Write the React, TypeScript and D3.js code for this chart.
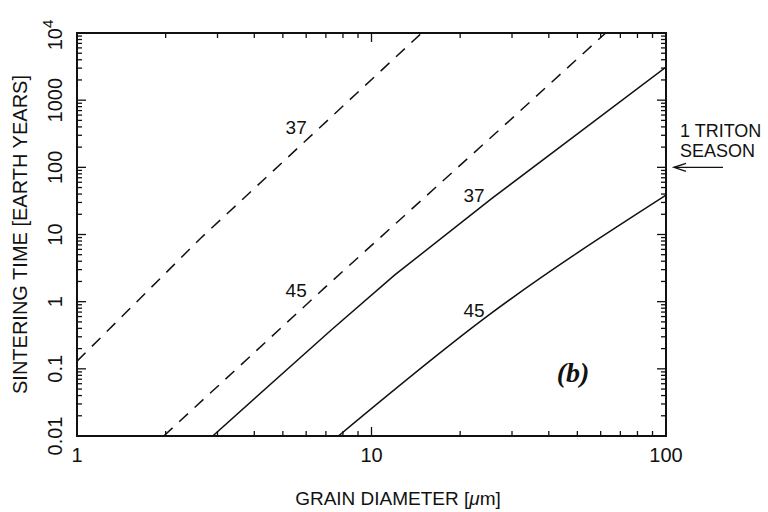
import React from "react";
import * as d3 from "d3";

const W = 768;
const H = 512;
const M = { left: 77, right: 666, top: 33, bottom: 436 };

// axes
const xDomain = [1, 100];
const yDomain = [0.01, 10000];
const xTickValues = [1, 10, 100];
const xTickLabels = ["1", "10", "100"];
const yTickValues = [0.01, 0.1, 1, 10, 100, 1000];
const yTickLabels = ["0.01", "0.1", "1", "10", "100", "1000"];

// curves: [grain diameter (µm), sintering time (earth years)]
const dashed37 = [[1, 0.13], [2.63, 8.8], [14.8, 10000]];
const dashed45 = [[1.97, 0.01], [6.91, 1.59], [27.8, 396], [62.4, 10000]];
const solid37 = [[2.89, 0.01], [7.3, 0.378], [12, 2.5], [25.7, 34.8], [100, 3100]];
const solid45 = [[7.72, 0.01], [25, 0.63], [100, 38.5]];

const curveNames = ["37", "45", "37", "45"];
const curveDashed = [true, true, false, false];
const curveSmooth = [false, false, false, true];
const curveLabelPos = [[5.55, 396], [5.55, 1.49], [22.3, 38.5], [22.3, 0.75]];

const seasonValue = 100;

export default function App() {
  const x = d3.scaleLog().domain(xDomain).range([M.left, M.right]);
  const y = d3.scaleLog().domain(yDomain).range([M.bottom, M.top]);
  const lineLin = d3
    .line<number[]>()
    .x((d) => x(d[0]))
    .y((d) => y(d[1]));
  const lineSmooth = d3
    .line<number[]>()
    .x((d) => x(d[0]))
    .y((d) => y(d[1]))
    .curve(d3.curveMonotoneX);

  const curves = [dashed37, dashed45, solid37, solid45];

  const xt = x.ticks();
  const yt = y.ticks();
  const isMajor = (v: number) => Math.abs(Math.log10(v) - Math.round(Math.log10(v))) < 1e-6;
  const majorLen = 9;
  const minorLen = 5;

  const font = "'Liberation Sans', Arial, Helvetica, sans-serif";

  return (
    <div style={{ position: "absolute", left: 0, top: 0 }}>
      <svg width={W} height={H} style={{ display: "block", background: "#fff" }}>
        <rect x={0} y={0} width={W} height={H} fill="#fff" />
        <defs>
          <clipPath id="plot">
            <rect x={M.left} y={M.top} width={M.right - M.left} height={M.bottom - M.top} />
          </clipPath>
        </defs>

        {/* curves */}
        <g clipPath="url(#plot)">
          {curves.map((c, i) => (
            <path
              key={i}
              d={(curveSmooth[i] ? lineSmooth(c) : lineLin(c)) || ""}
              fill="none"
              stroke="#111"
              strokeWidth={1.5}
              strokeDasharray={curveDashed[i] ? "12,9" : undefined}
            />
          ))}
        </g>

        {/* curve labels */}
        {curveLabelPos.map((p, i) => (
          <text
            key={i}
            x={x(p[0])}
            y={y(p[1]) + 7}
            textAnchor="middle"
            fontFamily={font}
            fontSize={19}
            fill="#111"
          >
            {curveNames[i]}
          </text>
        ))}

        {/* frame */}
        <rect
          x={M.left}
          y={M.top}
          width={M.right - M.left}
          height={M.bottom - M.top}
          fill="none"
          stroke="#111"
          strokeWidth={2}
        />

        {/* x ticks bottom and top */}
        {xt.map((v, i) => {
          const len = isMajor(v) ? majorLen : minorLen;
          return (
            <g key={"x" + i} stroke="#111" strokeWidth={1.3}>
              <line x1={x(v)} x2={x(v)} y1={M.bottom} y2={M.bottom - len} />
              <line x1={x(v)} x2={x(v)} y1={M.top} y2={M.top + len} />
            </g>
          );
        })}
        {/* y ticks left and right */}
        {yt.map((v, i) => {
          const len = isMajor(v) ? majorLen : minorLen;
          return (
            <g key={"y" + i} stroke="#111" strokeWidth={1.3}>
              <line x1={M.left} x2={M.left + len} y1={y(v)} y2={y(v)} />
              <line x1={M.right} x2={M.right - len} y1={y(v)} y2={y(v)} />
            </g>
          );
        })}

        {/* x tick labels */}
        {xTickValues.map((v, i) => (
          <text
            key={"xl" + i}
            x={x(v)}
            y={M.bottom + 26}
            textAnchor="middle"
            fontFamily={font}
            fontSize={20}
            fill="#111"
          >
            {xTickLabels[i]}
          </text>
        ))}

        {/* y tick labels (rotated) */}
        {yTickValues.map((v, i) => (
          <text
            key={"yl" + i}
            transform={`translate(62,${y(v)}) rotate(-90)`}
            textAnchor="middle"
            fontFamily={font}
            fontSize={20}
            fill="#111"
          >
            {yTickLabels[i]}
          </text>
        ))}
        <text
          transform={`translate(62,${y(10000) + 2}) rotate(-90)`}
          textAnchor="middle"
          fontFamily={font}
          fontSize={20}
          fill="#111"
        >
          10
          <tspan dy={-9} fontSize={15}>4</tspan>
        </text>

        {/* axis titles */}
        <text
          x={398}
          y={505}
          textAnchor="middle"
          fontFamily={font}
          fontSize={19}
          fill="#111"
        >
          GRAIN DIAMETER [<tspan fontStyle="italic">μ</tspan>m]
        </text>
        <text
          transform={`translate(27,${(M.top + M.bottom) / 2}) rotate(-90)`}
          textAnchor="middle"
          fontFamily={font}
          fontSize={20}
          fill="#111"
        >
          SINTERING TIME [EARTH YEARS]
        </text>

        {/* panel label */}
        <text
          x={573}
          y={382}
          textAnchor="middle"
          fontFamily="'Liberation Serif', 'Times New Roman', serif"
          fontStyle="italic"
          fontWeight="bold"
          fontSize={28}
          fill="#111"
        >
          (b)
        </text>

        {/* Triton season annotation */}
        <text x={680} y={137} fontFamily={font} fontSize={18} fill="#111">
          1 TRITON
        </text>
        <text x={680} y={157} fontFamily={font} fontSize={18} fill="#111">
          SEASON
        </text>
        <g stroke="#111" strokeWidth={1.4} fill="none">
          <line x1={674} x2={723} y1={y(seasonValue)} y2={y(seasonValue)} />
          <path
            d={`M${686},${y(seasonValue) - 4} L${674},${y(seasonValue)} L${686},${y(seasonValue) + 4}`}
          />
        </g>
      </svg>
    </div>
  );
}
